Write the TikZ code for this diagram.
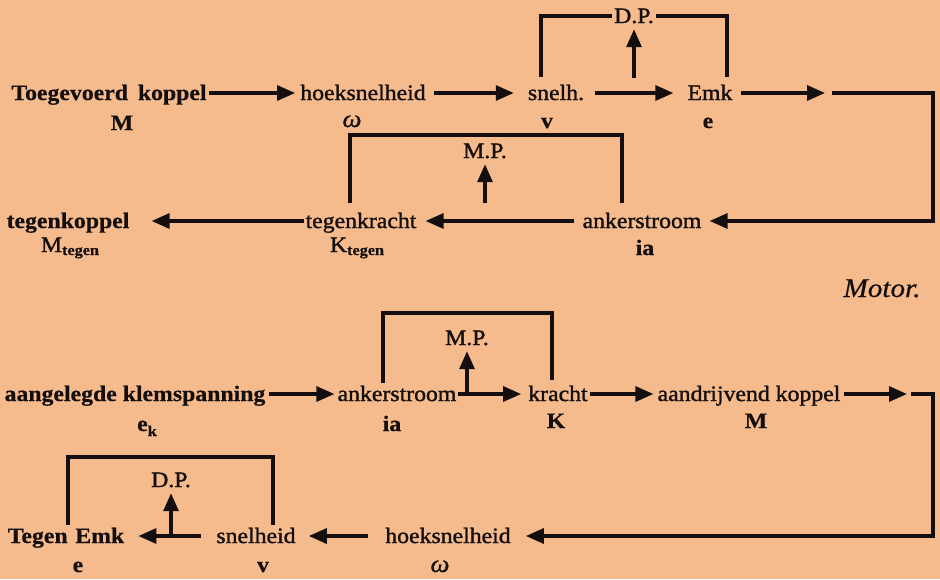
\documentclass[tikz,border=0pt]{standalone}
\usepackage{fontspec}
\setmainfont[FakeStretch=1.08,
  UprightFeatures={FakeBold=1.4},
  BoldFeatures={FakeBold=0.5},
  ItalicFeatures={FakeBold=0.8}]{Liberation Serif}
\usetikzlibrary{arrows.meta}
\definecolor{paper}{RGB}{246,187,140}
\definecolor{ink}{RGB}{20,15,14}
% small "tegen" index after M and K
\newcommand\subtegen{\raisebox{-3pt}{\fontsize{15}{15}\selectfont\bfseries tegen}}

\begin{document}
\begin{tikzpicture}[x=1pt,y=-1pt,
  every node/.style={text=ink, font=\fontsize{22}{24}\selectfont},
  term/.style={anchor=base, inner xsep=1pt, inner ysep=0pt, text height=18pt, text depth=4pt},
  head/.style={font=\fontsize{22}{24}\selectfont\bfseries},
  quant/.style={anchor=base, inner sep=0pt, font=\fontsize{22}{24}\selectfont\bfseries},
  plain/.style={anchor=base, inner sep=0pt},
  omega/.style={anchor=base, inner sep=0pt, font=\fontsize{25}{28}\selectfont\itshape},
  loss/.style={anchor=base, inner xsep=2pt, inner ysep=1pt, text height=14pt, text depth=0pt},
  wire/.style={draw=ink, line width=3.2pt},
  flow/.style={wire, -{Triangle[length=18pt,width=15pt]}},
]
\fill[paper] (0,0) rectangle (940,579);
\useasboundingbox (0,0) rectangle (940,579);

% ---- generator chain ----
\node[term, head] (koppel) at (109,100) {Toegevoerd\hspace{0.45em}koppel};
\node[quant] (qM1) at (122,130) {M};
\node[term] (hoek1) at (363,100) {hoeksnelheid};
\node[omega] (qw1) at (352,127) {ω};
\node[term] (snelh) at (556,100) {snelh.};
\node[quant] (qv1) at (547,128) {v};
\node[term] (emk) at (710,100) {Emk};
\node[quant] (qe1) at (708,128) {e};
\node[loss] (dp1) at (634,23) {D.P.};

\node[term, head] (tegkop) at (68,228) {tegenkoppel};
\node[plain] (qM2) at (70,252) {M\subtegen};
\node[term] (tegkr) at (361,228) {tegenkracht};
\node[plain] (qK2) at (357,252) {K\subtegen};
\node[term] (ank1) at (642,228) {ankerstroom};
\node[quant] (qi1) at (645,255) {ia};
\node[loss] (mp2) at (485,158) {M.P.};

\node[plain, font=\fontsize{27}{30}\selectfont\itshape] (motor) at (882,297) {Motor.};

% ---- motor chain ----
\node[term, head] (klem) at (135,401) {aangelegde klemspanning};
\node[quant] (qe2) at (147,431) {e\raisebox{-5pt}{\fontsize{15}{15}\selectfont k}};
\node[term] (ank2) at (397,401) {ankerstroom};
\node[quant] (qi2) at (392,431) {ia};
\node[term] (kracht) at (558,401) {kracht};
\node[quant] (qK3) at (556,428) {K};
\node[term] (aandr) at (749,401) {aandrijvend koppel};
\node[quant] (qM3) at (756,428) {M};
\node[loss] (mp3) at (467,345) {M.P.};

\node[term] (hoek2) at (448,543) {hoeksnelheid};
\node[omega] (qw2) at (440,572) {ω};
\node[term] (snelheid) at (256,543) {snelheid};
\node[quant] (qv2) at (263,572) {v};
\node[term, head] (tegenemk) at (66,543) {Tegen\hspace{0.35em}Emk};
\node[quant] (qe3) at (78,572) {e};
\node[loss] (dp4) at (171,487) {D.P.};

% ---- rails and bends ----
\coordinate (gap1) at (829,93);
\coordinate (bend1) at (933,93);
\coordinate (rail2) at (485,135);
\coordinate (rail3) at (467,313);
\coordinate (gap2) at (909,394);
\coordinate (bend2) at (933,394);
\coordinate (rail4) at (171,457);

% generator: forward chain
\draw[flow, shorten <=1pt, shorten >=4pt] (koppel.east) -- (hoek1.west);
\draw[flow, shorten <=7pt, shorten >=13pt] (hoek1.east) -- (snelh.west);
\draw[flow, shorten <=10pt, shorten >=13pt] (snelh.east) -- (emk.west);
\draw[flow, shorten <=7pt, shorten >=4pt] (emk.east) -- (gap1);
\draw[flow, shorten <=3pt, shorten >=7pt] (gap1) -- (bend1) |- (ank1.east);
\draw[flow, shorten <=7pt, shorten >=8pt] (ank1.west) -- (tegkr.east);
\draw[flow, shorten >=21pt] (tegkr.west) -- (tegkop.east);

% generator: losses
\draw[wire, shorten <=5pt] ([xshift=-15pt]snelh.north) |- (dp1.west);
\draw[wire, shorten >=5pt] (dp1.east) -| ([xshift=17pt]emk.north);
\draw[flow, shorten <=4pt, shorten >=5pt] (dp1.south |- snelh.north) -- (dp1.south);
\draw[wire, shorten <=7pt, shorten >=7pt] ([xshift=-11pt]tegkr.north) |- (rail2) -| ([xshift=-20pt]ank1.north);
\draw[flow, shorten <=7pt, shorten >=5pt] (mp2.south |- tegkr.north) -- (mp2.south);

% motor: forward chain
\draw[flow, shorten <=2pt, shorten >=2pt] (klem.east) -- (ank2.west);
\draw[flow, shorten >=6pt] (ank2.east) -- (kracht.west);
\draw[flow, shorten <=1pt, shorten >=3pt] (kracht.east) -- (aandr.west);
\draw[flow, shorten <=2pt, shorten >=2pt] (aandr.east) -- (gap2);
\draw[flow, shorten <=2pt, shorten >=14pt] (gap2) -- (bend2) |- (hoek2.east);
\draw[flow, shorten <=16pt, shorten >=12pt] (hoek2.west) -- (snelheid.east);
\draw[flow, shorten <=14pt, shorten >=13pt] (snelheid.west) -- (tegenemk.east);

% motor: losses
\draw[wire, shorten >=3pt] ([xshift=-14pt]ank2.north) |- (rail3) -| ([xshift=-6pt]kracht.north);
\draw[flow, shorten >=5pt] (mp3.south |- ank2.east) -- (mp3.south);
\draw[wire] ([xshift=2pt]tegenemk.north) |- (rail4) -| ([xshift=17pt]snelheid.north);
\draw[flow, shorten >=5pt] (dp4.south |- snelheid.west) -- (dp4.south);
\end{tikzpicture}
\end{document}
